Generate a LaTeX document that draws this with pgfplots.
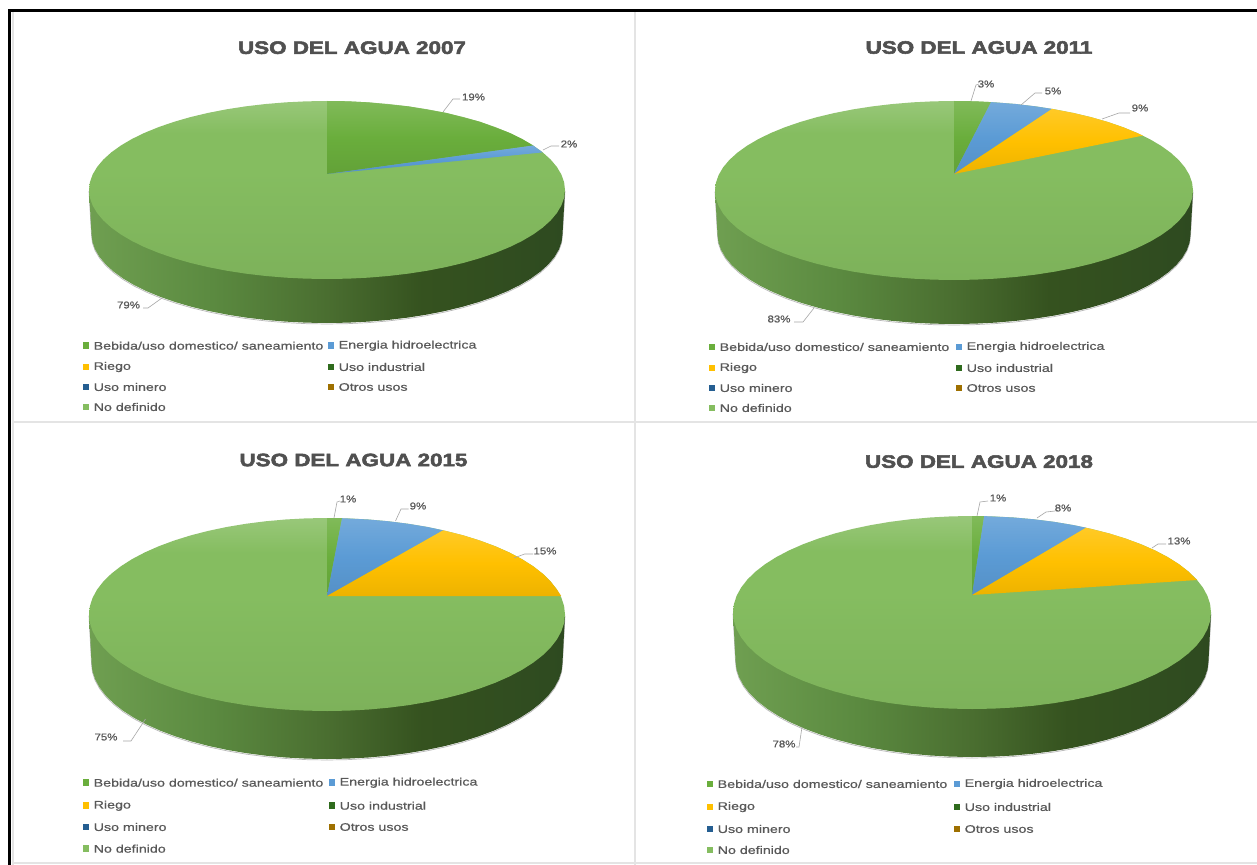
\documentclass[border=0pt]{standalone}
\usepackage{fontspec}
\usepackage{pgfplots}
\usepackage{pgfplotstable}
\pgfplotsset{compat=1.18}
\newfontfamily\titlefont[FakeStretch=1.25,FakeBold=3]{Liberation Sans Bold}
\newfontfamily\legfont[FakeStretch=1.3,FakeBold=0.7]{Liberation Sans}
\newfontfamily\pctfont[FakeStretch=1.15,FakeBold=0.7]{Liberation Sans}
\definecolor{txt}{HTML}{595959}
\definecolor{ttl}{HTML}{505050}
\definecolor{divi}{HTML}{E4E4E4}
\definecolor{leader}{HTML}{A6A6A6}
\definecolor{cBeb}{HTML}{6AAE3C}
\definecolor{cEne}{HTML}{5B9BD5}
\definecolor{cRie}{HTML}{FFC000}
\definecolor{cInd}{HTML}{2F6B1D}
\definecolor{cMin}{HTML}{255E91}
\definecolor{cOtr}{HTML}{9E7000}
\definecolor{cNod}{HTML}{85BD60}
\definecolor{wa}{HTML}{6F9F51}
\definecolor{wb}{HTML}{5B8A40}
\definecolor{wc}{HTML}{4A6E30}
\definecolor{wd}{HTML}{35521F}
\definecolor{we}{HTML}{2E4A20}
\pgfdeclarehorizontalshading{wall}{100bp}{color(0bp)=(wa);color(25bp)=(wa);color(38bp)=(wb);color(50bp)=(wc);color(60bp)=(wd);color(75bp)=(we);color(100bp)=(we)}
\pgfdeclareverticalshading{faceN}{100bp}{color(0bp)=(cNod!94!black);color(25bp)=(cNod!94!black);color(55bp)=(cNod);color(66bp)=(cNod);color(75bp)=(cNod!84!white);color(100bp)=(cNod!84!white)}
% unit circle, clockwise from the top: s = sin t, c = cos t
\pgfplotstableread{
s c
0 1
0.0872 0.9962
0.1736 0.9848
0.2588 0.9659
0.3420 0.9397
0.4226 0.9063
0.5 0.8660
0.5736 0.8192
0.6428 0.7660
0.7071 0.7071
0.7660 0.6428
0.8192 0.5736
0.8660 0.5
0.9063 0.4226
0.9397 0.3420
0.9659 0.2588
0.9848 0.1736
0.9962 0.0872
1 0
0.9962 -0.0872
0.9848 -0.1736
0.9659 -0.2588
0.9397 -0.3420
0.9063 -0.4226
0.8660 -0.5
0.8192 -0.5736
0.7660 -0.6428
0.7071 -0.7071
0.6428 -0.7660
0.5736 -0.8192
0.5 -0.8660
0.4226 -0.9063
0.3420 -0.9397
0.2588 -0.9659
0.1736 -0.9848
0.0872 -0.9962
0 -1
-0.0872 -0.9962
-0.1736 -0.9848
-0.2588 -0.9659
-0.3420 -0.9397
-0.4226 -0.9063
-0.5 -0.8660
-0.5736 -0.8192
-0.6428 -0.7660
-0.7071 -0.7071
-0.7660 -0.6428
-0.8192 -0.5736
-0.8660 -0.5
-0.9063 -0.4226
-0.9397 -0.3420
-0.9659 -0.2588
-0.9848 -0.1736
-0.9962 -0.0872
-1 0
-0.9962 0.0872
-0.9848 0.1736
-0.9659 0.2588
-0.9397 0.3420
-0.9063 0.4226
-0.8660 0.5
-0.8192 0.5736
-0.7660 0.6428
-0.7071 0.7071
-0.6428 0.7660
-0.5736 0.8192
-0.5 0.8660
-0.4226 0.9063
-0.3420 0.9397
-0.2588 0.9659
-0.1736 0.9848
-0.0872 0.9962
}\unitcircle
% side wall: f=0 on the top rim, f=1 on the bottom rim
\pgfplotstableread{
s c f
1 0 0
1 0 1
0.9962 -0.0872 1
0.9848 -0.1736 1
0.9659 -0.2588 1
0.9397 -0.3420 1
0.9063 -0.4226 1
0.8660 -0.5 1
0.8192 -0.5736 1
0.7660 -0.6428 1
0.7071 -0.7071 1
0.6428 -0.7660 1
0.5736 -0.8192 1
0.5 -0.8660 1
0.4226 -0.9063 1
0.3420 -0.9397 1
0.2588 -0.9659 1
0.1736 -0.9848 1
0.0872 -0.9962 1
0 -1 1
-0.0872 -0.9962 1
-0.1736 -0.9848 1
-0.2588 -0.9659 1
-0.3420 -0.9397 1
-0.4226 -0.9063 1
-0.5 -0.8660 1
-0.5736 -0.8192 1
-0.6428 -0.7660 1
-0.7071 -0.7071 1
-0.7660 -0.6428 1
-0.8192 -0.5736 1
-0.8660 -0.5 1
-0.9063 -0.4226 1
-0.9397 -0.3420 1
-0.9659 -0.2588 1
-0.9848 -0.1736 1
-0.9962 -0.0872 1
-1 0 1
-1 0 0
}\wallrim
\newcommand{\piebase}[5]{% cx cy rx ry depth
  \addplot[draw=black!70,line width=0.7pt,opacity=0.4] table[x expr={#1+(#3-2.5*\thisrow{f})*\thisrow{s}},y expr={#2+(#5-1)*\thisrow{f}-#4*\thisrow{c}+1}] {\wallrim};
  \addplot[draw=none,shading=wall] table[x expr={#1+(#3-2.5*\thisrow{f})*\thisrow{s}},y expr={#2+(#5-1)*\thisrow{f}-#4*\thisrow{c}}] {\wallrim};
  \addplot[draw=none,shading=faceN] table[x expr={#1+#3*\thisrow{s}},y expr={#2-#4*\thisrow{c}}] {\unitcircle};
}
\newcommand{\pct}[3]{\node[text=txt,font=\pctfont\fontsize{10}{10}\selectfont,inner sep=0pt] at (axis cs:#1,#2) {#3\%};}
\newcommand{\ttitle}[3]{\node[text=ttl,font=\titlefont\fontsize{18}{18}\selectfont,inner sep=0pt] at (axis cs:#1,#2) {USO DEL AGUA #3};}
\newcommand{\legrow}[4]{% swatch x, y, colour, text
  \addplot[only marks,mark=square*,mark size=2.8bp,mark options={solid,draw=#3,fill=#3,line width=0pt}] coordinates {(#1,#2)};
  \node[anchor=west,text=txt,font=\legfont\fontsize{11}{11}\selectfont,inner sep=0pt] at (axis cs:#1+7.5,#2) {#4};
}
\newcommand{\legblock}[6]{% x1 x2 y1 y2 y3 y4
  \legrow{#1}{#3}{cBeb}{Bebida/uso domestico/ saneamiento}
  \legrow{#2}{#3}{cEne}{Energia hidroelectrica}
  \legrow{#1}{#4}{cRie}{Riego}
  \legrow{#2}{#4}{cInd}{Uso industrial}
  \legrow{#1}{#5}{cMin}{Uso minero}
  \legrow{#2}{#5}{cOtr}{Otros usos}
  \legrow{#1}{#6}{cNod}{No definido}
}
\pgfplotsset{
  wg/.style={draw=none,top color=#1!85!white,bottom color=#1!93!black,middle color=#1},
  ld/.style={draw=leader,line width=0.6pt},
  sep/.style={draw=divi,line width=1.6pt}
}
\begin{document}
\begin{tikzpicture}
\begin{axis}[
  width=1257bp,height=865bp,scale only axis,
  xmin=0,xmax=1257,ymin=0,ymax=865,y dir=reverse,
  axis lines=none,clip=true,
]
% page and frame
\addplot[fill=white,draw=none] coordinates {(0,0) (1257,0) (1257,865) (0,865)};
\addplot[sep] coordinates {(635,12) (635,865)};
\addplot[sep] coordinates {(12,422) (1257,422)};
\addplot[sep] coordinates {(12,863) (1257,863)};
\addplot[sep] coordinates {(13,12) (13,865)};
\addplot[draw=black,line width=3.4bp] coordinates {(9.7,865) (9.7,10.8) (1257,10.8)};

% ---- 2007
\piebase{327}{190}{238}{89}{45}
\addplot[wg=cBeb] coordinates {(327,174) (327,101) (348,101.3) (368.3,102.4) (408.4,106.4) (446,112.9) (480,121.8) (509.3,132.8) (522,139) (533.1,145.5)};
\addplot[wg=cEne] coordinates {(327,174) (533.1,145.5) (542.7,152.4)};
\addplot[ld] coordinates {(443,112) (453,99) (460,99)};
\addplot[ld] coordinates {(543,150) (551,146) (559,146)};
\addplot[ld] coordinates {(162,298) (148,308) (143,308)};
\pct{473.5}{97}{19}\pct{569}{144}{2}\pct{128.5}{305}{79}
\ttitle{352}{47.7}{2007}
\legblock{86}{331}{345.7}{367}{387}{407}

% ---- 2011
\piebase{954}{190.5}{239}{89.5}{45}
\addplot[wg=cBeb] coordinates {(954,174) (954,101) (974.8,101.3) (991,102.1)};
\addplot[wg=cEne] coordinates {(954,174) (991,102.1) (1015.9,104) (1035.7,106.4) (1052,108.9)};
\addplot[wg=cRie] coordinates {(954,174) (1052,108.9) (1073.5,113) (1091.1,117.2) (1107.6,121.9) (1123,127.2) (1137.1,133) (1142.8,135.6)};
\addplot[ld] coordinates {(971,101) (976,85) (979,84)};
\addplot[ld] coordinates {(1021,105) (1035,93) (1042,93)};
\addplot[ld] coordinates {(1102,119) (1119,113) (1130,113)};
\addplot[ld] coordinates {(814,308) (803,322) (794,322)};
\pct{986}{84}{3}\pct{1053}{91}{5}\pct{1140}{108}{9}\pct{779}{319}{83}
\ttitle{979}{47.5}{2011}
\legblock{712}{959}{347}{368}{388}{408}

% ---- 2015
\piebase{327}{614.5}{238}{96.5}{49}
\addplot[wg=cBeb] coordinates {(327,596) (327,518) (342,518.2)};
\addplot[wg=cEne] coordinates {(327,596) (342,518.2) (368.3,519.5) (388.6,521.3) (408.4,523.8) (427.6,527) (443.1,530.3)};
\addplot[wg=cRie] coordinates {(327,596) (443.1,530.3) (463.5,535.4) (480,540.6) (495.3,546.3) (509.3,552.5) (522,559.2) (533.1,566.2) (542.7,573.7) (550.6,581.5) (556.9,589.5) (561.2,596)};
\addplot[ld] coordinates {(334,518) (337,502) (340,501)};
\addplot[ld] coordinates {(395.5,521) (401,509) (408.6,509)};
\addplot[ld] coordinates {(514,558) (524.6,554) (533,554)};
\addplot[ld] coordinates {(145.5,719) (131,741) (123,741)};
\pct{348}{499}{1}\pct{418}{506}{9}\pct{545}{551}{15}\pct{106}{737}{75}
\ttitle{353.5}{460}{2015}
\legblock{86}{332}{782.7}{805.7}{827}{848.7}

% ---- 2018
\piebase{972}{612.5}{239}{96.5}{49}
\addplot[wg=cBeb] coordinates {(972,595) (972,516) (984.1,516.1)};
\addplot[wg=cEne] coordinates {(972,595) (984.1,516.1) (1013.5,517.5) (1033.9,519.3) (1053.7,521.8) (1073,525) (1086,527.7)};
\addplot[wg=cRie] coordinates {(972,595) (1086,527.7) (1109.1,533.4) (1125.6,538.6) (1141,544.3) (1155.1,550.5) (1167.8,557.2) (1179,564.2) (1188.6,571.7) (1197,580)};
\addplot[ld] coordinates {(977,516) (980,502) (988,501)};
\addplot[ld] coordinates {(1037,518) (1046,512) (1055,511)};
\addplot[ld] coordinates {(1152,548) (1158,544) (1166,544)};
\addplot[ld] coordinates {(802,727) (799,747) (796,747)};
\pct{998}{498}{1}\pct{1063}{508}{8}\pct{1179}{541}{13}\pct{784}{744}{78}
\ttitle{979}{461.6}{2018}
\legblock{710}{957}{784}{807}{829}{850}
\end{axis}
\end{tikzpicture}
\end{document}
